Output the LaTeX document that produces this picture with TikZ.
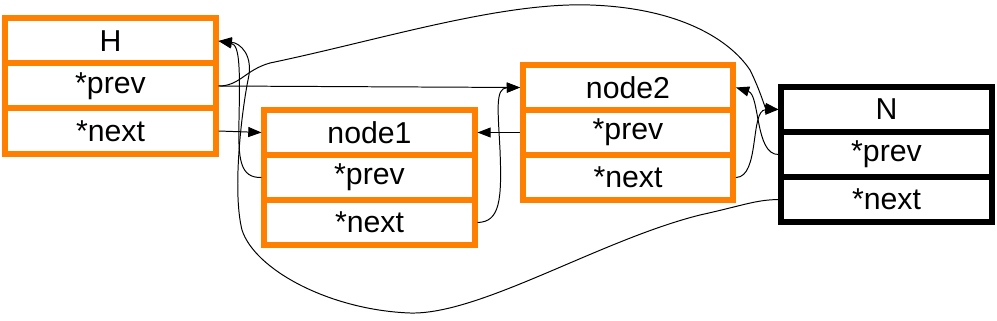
\documentclass[tikz,border=0pt]{standalone}
\usepackage{fontspec}
\setmainfont{Liberation Sans}
\usetikzlibrary{arrows.meta}
\definecolor{lorange}{RGB}{255,127,0}
\tikzset{
  cell/.style={draw=lorange,line width=0.15cm,fill=white,minimum width=5.25cm,minimum height=1.125cm,inner sep=0pt,font=\fontsize{21.5}{24}\selectfont},
  tailcell/.style={cell,draw=black},
  ptr/.style={line width=0.7pt,-{Triangle[length=0.33cm,width=0.25cm]}}
}
\begin{document}
\begin{tikzpicture}[x=0.025cm,y=-0.025cm]
\useasboundingbox (0,0) rectangle (997,321);
% head
\node[cell] (H) at (110.5,41) {H};
\node[cell] (Hprev) at (110.5,86) {*prev};
\node[cell] (Hnext) at (110.5,131) {*next};
% node1
\node[cell] (n1) at (369.5,132.5) {node1};
\node[cell] (n1prev) at (369.5,177.5) {*prev};
\node[cell] (n1next) at (369.5,222.5) {*next};
% node2
\node[cell] (n2) at (628,87.5) {node2};
\node[cell] (n2prev) at (628,132.5) {*prev};
\node[cell] (n2next) at (628,177.5) {*next};
% tail
\node[tailcell] (N) at (886.5,109.5) {N};
\node[tailcell] (Nprev) at (886.5,154.5) {*prev};
\node[tailcell] (Nnext) at (886.5,199.5) {*next};
% straight links
\draw[ptr] (Hprev.east) -- (n2.west);
\draw[ptr] (Hnext.east) -- (n1.west);
\draw[ptr] (n2prev.west) -- (n1.east);
% curved links
\draw[ptr] (n1next.east) .. controls (500,222) and (502,200) .. (500,150) .. controls (498,110) and (495,88) .. (n2.west);
\draw[ptr] (n1prev.west) .. controls (240,178) and (238,160) .. (239,120) .. controls (240,70) and (240,45) .. (H.east);
\draw[ptr] (n2next.east) .. controls (760,177) and (750,110) .. (N.west);
\draw[ptr] (Nprev.west) .. controls (755,155) and (760,95) .. (n2.east);
% wrap-around links
\draw[ptr] (Hprev.east) .. controls (240,86) and (245,70) .. (270,63) .. controls (380,40) and (500,2) .. (590,5) .. controls (680,8) and (730,40) .. (750,70) .. controls (760,90) and (765,108) .. (N.west);
\draw[ptr] (Nnext.west) .. controls (755,200) and (745,205) .. (700,215) .. controls (600,240) and (480,315) .. (410,313) .. controls (330,310) and (255,270) .. (242,230) .. controls (232,190) and (242,110) .. (248,80) .. controls (254,55) and (240,43) .. (H.east);
\end{tikzpicture}
\end{document}
